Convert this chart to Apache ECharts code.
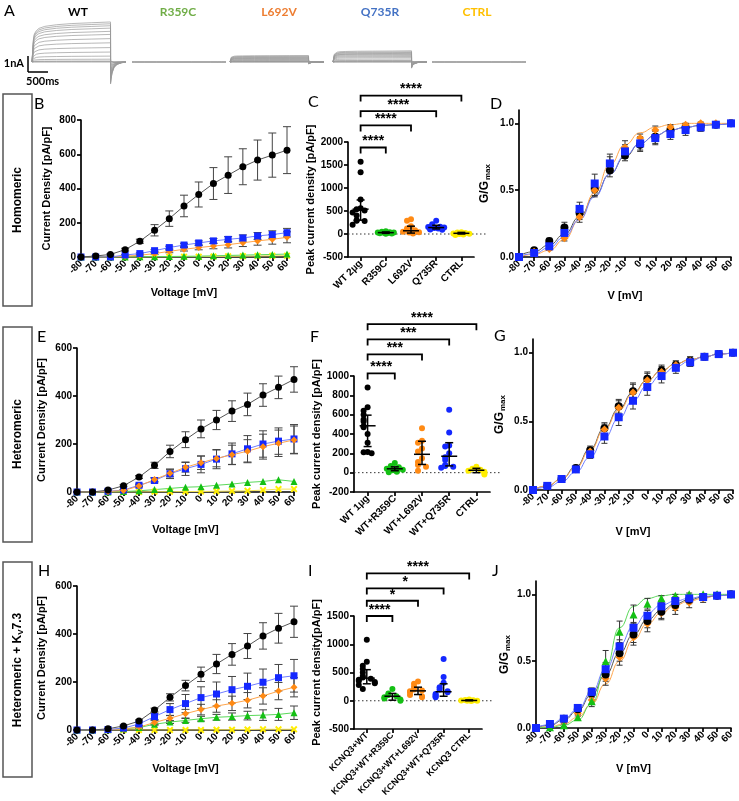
<!DOCTYPE html>
<html>
<head>
<meta charset="utf-8">
<script src="https://cdn.jsdelivr.net/npm/echarts@6.0.0/dist/echarts.min.js"></script>
<style>
  html, body { margin: 0; padding: 0; background: #fff; }
  #Chart { width: 739px; height: 801px; }
</style>
</head>
<body>
<div id="Chart"></div>
<script>
// ---- data ----
const voltages = [-80, -70, -60, -50, -40, -30, -20, -10, 0, 10, 20, 30, 40, 50, 60]

// A: example current traces (nA), time in ms
const pulseTimes = [0, 5, 30, 80, 150, 300, 600, 1000, 1500, 2000]
const tailTimes = [2001, 2010, 2040, 2090, 2170, 2280, 2400]
const wtPulse = [0, 0.55, 0.7, 0.78, 0.84, 0.89, 0.93, 0.96, 0.98, 1]
const l692vPulse = [0, 0.75, 0.85, 0.9, 0.93, 0.95, 0.97, 0.98, 0.99, 1]
const q735rPulse = [0, 0.7, 0.82, 0.88, 0.92, 0.94, 0.96, 0.97, 0.98, 1]
const flatPulse = [0, 0, 0, 0, 0, 0, 0, 0, 0, 0]
const wtTail = [-0.55, -0.45, -0.28, -0.14, -0.06, -0.02, 0]
const l692vTail = [-0.3, -0.2, -0.1, -0.05, -0.02, 0, 0]
const q735rTail = [-0.55, -0.4, -0.22, -0.1, -0.04, -0.01, 0]
const flatTail = [0, 0, 0, 0, 0, 0, 0]
const wtSweeps = [0, 0.03, 0.07, 0.2, 0.42, 0.71, 1.03, 1.37, 1.67, 1.97, 2.19, 2.42, 2.59, 2.73, 2.86]
const r359cSweeps = [0, 0.01, 0.02, 0.03]
const l692vSweeps = [0, 0.01, 0.02, 0.04, 0.06, 0.09, 0.13, 0.18, 0.22, 0.26, 0.29, 0.33, 0.37, 0.41, 0.46]
const q735rSweeps = [0, 0.01, 0.03, 0.07, 0.11, 0.21, 0.31, 0.39, 0.46, 0.53, 0.58, 0.62, 0.68, 0.73, 0.8]
const ctrlSweeps = [0, 0.01, 0.02, 0.03]

// B: homomeric I-V (pA/pF)
const homoWT = [0, 6, 15, 43, 92, 156, 224, 298, 365, 429, 478, 527, 566, 595, 624]
const homoWTErr = [0, 2, 4, 8, 12, 33, 45, 63, 73, 93, 107, 105, 117, 129, 137]
const homoR359C = [0, 0, 0, 0, 1, 2, 3, 4, 5, 7, 9, 11, 13, 15, 17]
const homoL692V = [0, 0, 0, 5, 10, 20, 33, 45, 55, 64, 72, 83, 94, 103, 115]
const homoL692VErr = [0, 0, 0, 2, 4, 6, 8, 10, 13, 16, 19, 22, 25, 28, 32]
const homoQ735R = [0, 0, 0, 12, 20, 37, 55, 70, 82, 94, 103, 111, 123, 131, 142]
const homoQ735RErr = [0, 0, 0, 3, 4, 6, 8, 10, 12, 14, 16, 18, 20, 22, 25]
const homoCTRL = [0, 0, 0, 0, 0, 1, 1, 2, 2, 3, 4, 5, 6, 7, 8]

// C: homomeric peak current density
const homoPeakLabels = ["WT 2µg", "R359C", "L692V", "Q735R", "CTRL"]
const homoPeakWT = [1570, 1340, 750, 560, 540, 510, 470, 400, 300, 290, 280, 200]
const homoPeakR359C = [60, 50, 40, 35, 30, 25, 20, 15, 10, 5]
const homoPeakL692V = [320, 290, 170, 120, 80, 60, 50, 40, 30, 20, 10]
const homoPeakQ735R = [290, 210, 180, 160, 150, 140, 130, 120, 110, 100, 90]
const homoPeakCTRL = [40, 30, 20, 10, 5, 0, -10, -20]
const homoPeakMid = [540, 30, 70, 140, 15]
const homoPeakLow = [300, 15, 20, 110, 0]
const homoPeakHigh = [740, 45, 170, 190, 35]
const homoSig = ["****", "****", "****", "****"]
const homoSigLevel = [1880, 2360, 2670, 3010]

// D: homomeric G/Gmax
const homoGWT = [0, 0.05, 0.12, 0.22, 0.33, 0.51, 0.65, 0.76, 0.84, 0.9, 0.95, 0.97, 0.98, 0.99, 1]
const homoGWTErr = [0, 0.01, 0.02, 0.04, 0.05, 0.05, 0.05, 0.04, 0.05, 0.05, 0.03, 0.03, 0.02, 0.01, 0]
const homoGL692V = [0, 0.04, 0.06, 0.14, 0.3, 0.5, 0.7, 0.82, 0.89, 0.95, 0.97, 0.99, 1, 1, 1]
const homoGL692VErr = [0, 0.01, 0.01, 0.02, 0.04, 0.05, 0.05, 0.05, 0.03, 0.03, 0.02, 0.01, 0.01, 0, 0]
const homoGQ735R = [0, 0.03, 0.08, 0.18, 0.36, 0.55, 0.7, 0.79, 0.85, 0.89, 0.92, 0.95, 0.97, 0.99, 1]
const homoGQ735RErr = [0, 0.01, 0.02, 0.03, 0.05, 0.07, 0.07, 0.05, 0.05, 0.05, 0.04, 0.04, 0.03, 0.01, 0]
const homoFitWT = [0.01, 0.04, 0.09, 0.17, 0.3, 0.46, 0.62, 0.75, 0.85, 0.91, 0.95, 0.97, 0.985, 0.99, 1]
const homoFitL692V = [0, 0.02, 0.05, 0.13, 0.28, 0.48, 0.69, 0.84, 0.93, 0.97, 0.99, 1, 1, 1, 1]
const homoFitQ735R = [0.005, 0.025, 0.07, 0.15, 0.28, 0.45, 0.62, 0.76, 0.85, 0.91, 0.95, 0.97, 0.985, 0.99, 1]

// E: heteromeric I-V
const heteroWT = [0, 0, 8, 26, 62, 111, 169, 218, 263, 300, 337, 365, 404, 436, 469]
const heteroWTErr = [0, 0, 2, 4, 6, 13, 26, 33, 37, 40, 43, 47, 47, 47, 53]
const heteroR359C = [0, 0, 0, 2, 5, 10, 15, 20, 22, 28, 33, 40, 44, 51, 44]
const heteroL692V = [0, 0, 2, 6, 25, 52, 78, 103, 122, 140, 155, 170, 189, 203, 217]
const heteroL692VErr = [0, 0, 1, 2, 4, 8, 15, 20, 28, 35, 40, 48, 52, 55, 58]
const heteroQ735R = [0, 0, 3, 8, 28, 48, 76, 97, 115, 137, 159, 180, 200, 212, 221]
const heteroQ735RErr = [0, 0, 1, 2, 5, 10, 20, 28, 35, 40, 45, 55, 55, 55, 60]
const heteroCTRL = [0, 0, 0, 0, 0, 1, 1, 2, 2, 3, 4, 5, 8, 12, 12]

// F: heteromeric peak current density
const heteroPeakLabels = ["WT 1µg", "WT+R359C", "WT+L692V", "WT+Q735R", "CTRL"]
const heteroPeakWT = [880, 677, 640, 600, 550, 530, 480, 470, 400, 310, 215, 210, 200]
const heteroPeakR359C = [100, 70, 55, 45, 40, 30, 25, 20, 10, 5]
const heteroPeakL692V = [460, 330, 310, 250, 220, 150, 110, 80, 60, 20]
const heteroPeakQ735R = [650, 415, 280, 270, 200, 160, 130, 80, 70, 60, 50]
const heteroPeakCTRL = [60, 40, 30, 20, 10, 0, -20]
const heteroPeakMid = [485, 40, 190, 170, 25]
const heteroPeakLow = [270, 20, 85, 70, 0]
const heteroPeakHigh = [595, 60, 325, 310, 45]
const heteroSig = ["****", "***", "***", "****"]
const heteroSigLevel = [1027, 1223, 1378, 1536]

// G: heteromeric G/Gmax
const heteroGWT = [0, 0.03, 0.08, 0.16, 0.29, 0.45, 0.61, 0.72, 0.81, 0.87, 0.91, 0.94, 0.97, 0.99, 1]
const heteroGWTErr = [0, 0.01, 0.01, 0.02, 0.03, 0.04, 0.05, 0.06, 0.05, 0.04, 0.03, 0.03, 0.02, 0.01, 0]
const heteroGL692V = [0, 0.03, 0.08, 0.15, 0.28, 0.44, 0.6, 0.71, 0.8, 0.86, 0.91, 0.94, 0.97, 0.99, 1]
const heteroGQ735R = [0, 0.03, 0.08, 0.15, 0.26, 0.39, 0.53, 0.65, 0.75, 0.83, 0.89, 0.93, 0.97, 0.99, 1]
const heteroGQ735RErr = [0, 0.01, 0.01, 0.02, 0.03, 0.05, 0.06, 0.06, 0.06, 0.05, 0.04, 0.03, 0.02, 0.01, 0]
const heteroFitWT = [0, 0.03, 0.08, 0.17, 0.3, 0.45, 0.59, 0.71, 0.8, 0.87, 0.92, 0.95, 0.97, 0.99, 1]
const heteroFitL692V = [0, 0.03, 0.08, 0.16, 0.29, 0.44, 0.58, 0.7, 0.8, 0.87, 0.92, 0.95, 0.97, 0.99, 1]
const heteroFitQ735R = [0, 0.02, 0.06, 0.13, 0.24, 0.38, 0.52, 0.65, 0.76, 0.84, 0.9, 0.94, 0.97, 0.99, 1]

// H: heteromeric + Kv7.3 I-V
const kv73WT = [0, 0, 5, 17, 37, 83, 136, 185, 232, 275, 315, 350, 392, 424, 451]
const kv73WTErr = [0, 0, 1, 3, 5, 8, 15, 22, 30, 40, 45, 52, 55, 62, 65]
const kv73R359C = [0, 0, 1, 5, 10, 24, 33, 40, 47, 53, 56, 60, 62, 65, 72]
const kv73R359CErr = [0, 0, 0, 1, 2, 4, 6, 8, 10, 12, 15, 18, 22, 25, 28]
const kv73L692V = [0, 0, 1, 4, 12, 31, 49, 68, 85, 100, 111, 124, 142, 162, 178]
const kv73L692VErr = [0, 0, 1, 2, 4, 8, 12, 18, 22, 26, 30, 32, 34, 36, 40]
const kv73Q735R = [0, 0, 2, 8, 25, 56, 85, 110, 135, 150, 168, 182, 199, 218, 226]
const kv73Q735RErr = [0, 0, 1, 3, 6, 12, 25, 38, 45, 50, 55, 55, 55, 55, 68]
const kv73CTRL = [0, 0, 0, 0, 0, 0, 0, 0, 0, 1, 1, 2, 3, 3, 3]

// I: heteromeric + Kv7.3 peak current density
const kv73PeakLabels = ["KCNQ3+WT", "KCNQ3+WT+R359C", "KCNQ3+WT+L692V", "KCNQ3+WT+Q735R", "KCNQ3 CTRL"]
const kv73PeakWT = [1080, 690, 620, 560, 500, 440, 410, 390, 370, 350, 330, 310, 280, 210]
const kv73PeakR359C = [210, 130, 100, 80, 60, 40, 20, 0]
const kv73PeakL692V = [340, 300, 250, 200, 180, 170, 150, 100, 80, 60]
const kv73PeakQ735R = [740, 420, 320, 240, 200, 170, 150, 120, 100, 80, 60]
const kv73PeakCTRL = [20, 15, 10, 5, 0, 0, -5]
const kv73PeakMid = [400, 80, 175, 160, 5]
const kv73PeakLow = [300, 10, 110, 80, 0]
const kv73PeakHigh = [550, 130, 240, 300, 15]
const kv73Sig = ["****", "*", "*", "****"]
const kv73SigLevel = [1500, 1770, 1988, 2253]

// J: heteromeric + Kv7.3 G/Gmax
const kv73GWT = [0, 0.02, 0.07, 0.14, 0.26, 0.4, 0.56, 0.7, 0.8, 0.87, 0.92, 0.96, 0.98, 0.99, 1]
const kv73GWTErr = [0, 0.01, 0.01, 0.02, 0.03, 0.05, 0.06, 0.06, 0.05, 0.05, 0.04, 0.03, 0.02, 0.01, 0]
const kv73GR359C = [0, 0.005, 0.02, 0.08, 0.2, 0.5, 0.72, 0.85, 0.93, 0.97, 0.99, 1, 1, 1, 1]
const kv73GR359CErr = [0, 0, 0.01, 0.02, 0.04, 0.08, 0.08, 0.07, 0.04, 0.02, 0.01, 0.01, 0, 0, 0]
const kv73GL692V = [0, 0.02, 0.05, 0.11, 0.21, 0.37, 0.53, 0.68, 0.78, 0.86, 0.9, 0.94, 0.97, 0.99, 1]
const kv73GL692VErr = [0, 0.01, 0.01, 0.02, 0.03, 0.05, 0.06, 0.06, 0.06, 0.05, 0.05, 0.04, 0.03, 0.01, 0]
const kv73GQ735R = [0, 0.03, 0.07, 0.15, 0.27, 0.44, 0.61, 0.75, 0.84, 0.91, 0.95, 0.97, 0.98, 0.99, 1]
const kv73GQ735RErr = [0, 0.01, 0.01, 0.02, 0.03, 0.05, 0.05, 0.04, 0.04, 0.03, 0.03, 0.02, 0.01, 0.01, 0]
const kv73FitWT = [0.005, 0.02, 0.06, 0.13, 0.25, 0.4, 0.56, 0.7, 0.81, 0.88, 0.93, 0.96, 0.98, 0.99, 1]
const kv73FitR359C = [0, 0.005, 0.02, 0.06, 0.18, 0.45, 0.75, 0.91, 0.97, 0.99, 1, 1, 1, 1, 1]
const kv73FitL692V = [0, 0.01, 0.03, 0.08, 0.18, 0.33, 0.5, 0.66, 0.78, 0.86, 0.92, 0.95, 0.97, 0.99, 1]
const kv73FitQ735R = [0.005, 0.025, 0.07, 0.14, 0.27, 0.44, 0.62, 0.76, 0.86, 0.92, 0.95, 0.97, 0.985, 0.99, 1]

// ---- styles ----
const FONT = "Liberation Sans"
const tickText = { fontFamily: FONT, fontWeight: "bold", fontSize: 10, color: "#000" }
const nameText = { fontFamily: FONT, fontWeight: "bold", fontSize: 11, color: "#000" }
const axisLineStyle = { color: "#000", width: 1.7 }
const xMark = "path://M2,0L5,3L8,0L10,2L7,5L10,8L8,10L5,7L2,10L0,8L3,5L0,2Z"
const look = {
  WT: { color: "#000000", line: "#555555", symbol: "circle", size: 7 },
  R359C: { color: "#14c014", line: "#5ad85a", symbol: "triangle", size: 7 },
  L692V: { color: "#ff8a14", line: "#ffa64d", symbol: "diamond", size: 7 },
  Q735R: { color: "#1428ff", line: "#6f7dff", symbol: "rect", size: 7 },
  CTRL: { color: "#ffee00", line: "#f2e25a", symbol: xMark, size: 7 }
}

const grid = []
const xAxis = []
const yAxis = []
const series = []
const graphic = []

function addGrid (box) {
  grid.push(box)
  return grid.length - 1
}

function voltAxis (gi, name, gap) {
  return {
    type: "value", gridIndex: gi, min: -80, max: 60, interval: 10,
    name, nameLocation: "middle", nameGap: gap, nameTextStyle: nameText,
    axisLine: { show: true, onZero: false, lineStyle: axisLineStyle },
    axisTick: { show: true, length: 4, lineStyle: axisLineStyle },
    axisLabel: { ...tickText, rotate: 45, margin: 5, formatter: v => String(v) },
    splitLine: { show: false }
  }
}

function valueAxis (gi, min, max, interval, name, gap, extra) {
  return Object.assign({
    type: "value", gridIndex: gi, min, max, interval,
    name, nameLocation: "middle", nameGap: gap, nameTextStyle: nameText,
    axisLine: { show: true, onZero: false, lineStyle: axisLineStyle },
    axisTick: { show: true, length: 4, lineStyle: axisLineStyle },
    axisLabel: { ...tickText, margin: 5, formatter: v => String(v) },
    splitLine: { show: false }
  }, extra || {})
}

function catAxis (gi, labels, fontSize) {
  return {
    type: "category", gridIndex: gi, data: labels, boundaryGap: true,
    axisLine: { show: true, onZero: false, lineStyle: axisLineStyle },
    axisTick: { show: true, alignWithLabel: true, length: 4, lineStyle: axisLineStyle },
    axisLabel: { ...tickText, fontSize, rotate: 45, interval: 0, margin: 5 },
    splitLine: { show: false }
  }
}

function errorBars (gi, values, errs, cap, color) {
  return {
    type: "custom", xAxisIndex: gi, yAxisIndex: gi, clip: false, silent: true, z: 3,
    data: voltages.map((v, i) => [v, values[i], errs[i]]),
    renderItem: (params, api) => {
      const e = api.value(2)
      if (!e) return null
      const hi = api.coord([api.value(0), api.value(1) + e])
      const lo = api.coord([api.value(0), api.value(1) - e])
      const style = { stroke: color || "#444", lineWidth: 1 }
      return {
        type: "group",
        children: [
          { type: "line", shape: { x1: hi[0], y1: hi[1], x2: lo[0], y2: lo[1] }, style },
          { type: "line", shape: { x1: hi[0] - cap, y1: hi[1], x2: hi[0] + cap, y2: hi[1] }, style },
          { type: "line", shape: { x1: lo[0] - cap, y1: lo[1], x2: lo[0] + cap, y2: lo[1] }, style }
        ]
      }
    }
  }
}

// I-V panels: points joined by straight lines
function ivPanel (box, yMax, xGap, yGap, groups) {
  const gi = addGrid(box)
  xAxis.push(voltAxis(gi, "Voltage [mV]", xGap))
  yAxis.push(valueAxis(gi, 0, yMax, 200, "Current Density [pA/pF]", yGap))
  groups.forEach(([key, values, errs]) => {
    const s = look[key]
    if (errs) series.push(errorBars(gi, values, errs, 4))
    series.push({
      type: "line", name: key, xAxisIndex: gi, yAxisIndex: gi, z: 4,
      data: voltages.map((v, i) => [v, values[i]]),
      symbol: s.symbol, symbolSize: s.size, showSymbol: true,
      itemStyle: { color: s.color, borderWidth: 0 },
      lineStyle: { color: s.line, width: 1 }
    })
  })
}

// G/Gmax panels: points + smooth fit lines
function gPanel (box, xGap, yGap, groups) {
  const gi = addGrid(box)
  xAxis.push(voltAxis(gi, "V [mV]", xGap))
  yAxis.push(valueAxis(gi, 0, 1.1, null, "G/G{m|max}", yGap, {
    nameTextStyle: { ...nameText, fontSize: 12, rich: { m: { fontFamily: FONT, fontWeight: "bold", fontSize: 8, padding: [7, 0, 0, 1] } } },
    axisLabel: { ...tickText, margin: 5, customValues: [0, 0.5, 1], formatter: v => v.toFixed(1) },
    axisTick: { show: true, length: 4, lineStyle: axisLineStyle, customValues: [0, 0.5, 1] }
  }))
  groups.forEach(([key, values, errs, fit]) => {
    const s = look[key]
    series.push({
      type: "line", xAxisIndex: gi, yAxisIndex: gi, z: 2, silent: true,
      data: voltages.map((v, i) => [v, fit[i]]),
      smooth: 0.5, smoothMonotone: "x", showSymbol: false, symbol: "none",
      lineStyle: { color: s.line, width: 1 }
    })
    if (errs) series.push(errorBars(gi, values, errs, 3, "#333"))
    series.push({
      type: "scatter", xAxisIndex: gi, yAxisIndex: gi, z: 4,
      data: voltages.map((v, i) => [v, values[i]]),
      symbol: s.symbol, symbolSize: s.size + 1,
      itemStyle: { color: s.color, opacity: 1 }
    })
  })
}

// scatter-dot panels with median/range bars and significance brackets
function spread (values, unitsPerPx) {
  const steps = [0, -4, 4, -8, 8, -2, 2, -6, 6]
  const placed = []
  return values.map(v => {
    const near = placed.filter(p => Math.abs(p - v) < 5 * unitsPerPx).length
    placed.push(v)
    return steps[near % steps.length]
  })
}

function dotPanel (box, yMin, yMax, step, yName, yGap, labels, labelSize, groups, mid, low, high, sig, sigLevel) {
  const gi = addGrid(box)
  xAxis.push(catAxis(gi, labels, labelSize))
  yAxis.push(valueAxis(gi, yMin, yMax, step, yName, yGap))
  const unitsPerPx = (yMax - yMin) / box.height
  series.push({
    type: "custom", xAxisIndex: gi, yAxisIndex: gi, clip: false, silent: true, z: 1,
    data: [[0, 0]],
    renderItem: (params, api) => {
      const p = api.coord([0, 0])
      const cs = params.coordSys
      return {
        type: "line",
        shape: { x1: cs.x, y1: p[1], x2: cs.x + cs.width + 12, y2: p[1] },
        style: { stroke: "#333", lineWidth: 1, lineDash: [1.5, 2.5] }
      }
    }
  })
  groups.forEach(([key, values], ci) => {
    const offs = spread(values, unitsPerPx)
    series.push({
      type: "scatter", xAxisIndex: gi, yAxisIndex: gi, z: 3,
      data: values.map((v, i) => ({ value: [ci, v], symbolOffset: [offs[i], 0] })),
      symbol: "circle", symbolSize: 6,
      itemStyle: { color: look[key].color, opacity: 1 }
    })
  })
  series.push({
    type: "custom", xAxisIndex: gi, yAxisIndex: gi, clip: false, silent: true, z: 5,
    data: mid.map((m, i) => [i, m, low[i], high[i]]),
    renderItem: (params, api) => {
      const c = api.coord([api.value(0), api.value(1)])
      const lo = api.coord([api.value(0), api.value(2)])
      const hi = api.coord([api.value(0), api.value(3)])
      const style = { stroke: "#000", lineWidth: 1.5 }
      return {
        type: "group",
        children: [
          { type: "line", shape: { x1: c[0] - 8, y1: c[1], x2: c[0] + 8, y2: c[1] }, style },
          { type: "line", shape: { x1: lo[0], y1: lo[1], x2: hi[0], y2: hi[1] }, style },
          { type: "line", shape: { x1: lo[0] - 4, y1: lo[1], x2: lo[0] + 4, y2: lo[1] }, style },
          { type: "line", shape: { x1: hi[0] - 4, y1: hi[1], x2: hi[0] + 4, y2: hi[1] }, style }
        ]
      }
    }
  })
  series.push({
    type: "custom", xAxisIndex: gi, yAxisIndex: gi, clip: false, silent: true, z: 5,
    data: sigLevel.map((lv, i) => [i + 1, lv, i]),
    renderItem: (params, api) => {
      const a = api.coord([0, api.value(1)])
      const b = api.coord([api.value(0), api.value(1)])
      return {
        type: "group",
        children: [
          { type: "polyline", shape: { points: [[a[0], a[1] + 6], a, b, [b[0], b[1] + 6]] }, style: { stroke: "#000", lineWidth: 1.8, fill: null } },
          { type: "text", style: { text: sig[api.value(2)], x: (a[0] + b[0]) / 2, y: a[1] + 1, textAlign: "center", textVerticalAlign: "bottom", font: `bold 14px '${FONT}'`, fill: "#000" } }
        ]
      }
    }
  })
}

// ---- A: traces ----
const traceSets = [wtSweeps, r359cSweeps, l692vSweeps, q735rSweeps, ctrlSweeps]
const traceShapes = [wtPulse, flatPulse, l692vPulse, q735rPulse, flatPulse]
const traceTails = [wtTail, flatTail, l692vTail, q735rTail, flatTail]
const traceLefts = [32, 132, 230, 333, 432]
traceSets.forEach((sweeps, k) => {
  const gi = addGrid({ left: traceLefts[k], top: 20, width: 94, height: 70 })
  xAxis.push({ type: "value", gridIndex: gi, min: -30, max: 2400, show: false })
  yAxis.push({ type: "value", gridIndex: gi, min: -2, max: 3, show: false })
  sweeps.forEach(amp => {
    const data = [[-30, 0]]
      .concat(pulseTimes.map((t, i) => [t, amp * traceShapes[k][i]]))
      .concat(tailTimes.map((t, i) => [t, amp * traceTails[k][i]]))
    series.push({
      type: "line", xAxisIndex: gi, yAxisIndex: gi, data, silent: true,
      showSymbol: false, symbol: "none", lineStyle: { color: "#9a9a9a", width: 0.7 }
    })
  })
})

// ---- B, E, H ----
ivPanel({ left: 81, top: 120, width: 206, height: 137 }, 800, 30, 29, [
  ["CTRL", homoCTRL], ["R359C", homoR359C], ["L692V", homoL692V, homoL692VErr],
  ["Q735R", homoQ735R, homoQ735RErr], ["WT", homoWT, homoWTErr]
])
ivPanel({ left: 77, top: 348, width: 217, height: 144 }, 600, 32, 30, [
  ["CTRL", heteroCTRL], ["R359C", heteroR359C], ["Q735R", heteroQ735R, heteroQ735RErr],
  ["L692V", heteroL692V, heteroL692VErr], ["WT", heteroWT, heteroWTErr]
])
ivPanel({ left: 77, top: 586, width: 217, height: 144 }, 600, 33, 30, [
  ["CTRL", kv73CTRL], ["R359C", kv73R359C, kv73R359CErr], ["L692V", kv73L692V, kv73L692VErr],
  ["Q735R", kv73Q735R, kv73Q735RErr], ["WT", kv73WT, kv73WTErr]
])

// ---- C, F, I ----
dotPanel({ left: 348, top: 142, width: 126, height: 115 }, -500, 2000, 500, "Peak current density [pA/pF]", 30,
  homoPeakLabels, 10,
  [["WT", homoPeakWT], ["R359C", homoPeakR359C], ["L692V", homoPeakL692V], ["Q735R", homoPeakQ735R], ["CTRL", homoPeakCTRL]],
  homoPeakMid, homoPeakLow, homoPeakHigh, homoSig, homoSigLevel)
dotPanel({ left: 354, top: 376, width: 136, height: 116 }, -200, 1000, 200, "Peak current density [pA/pF]", 28,
  heteroPeakLabels, 10,
  [["WT", heteroPeakWT], ["R359C", heteroPeakR359C], ["L692V", heteroPeakL692V], ["Q735R", heteroPeakQ735R], ["CTRL", heteroPeakCTRL]],
  heteroPeakMid, heteroPeakLow, heteroPeakHigh, heteroSig, heteroSigLevel)
dotPanel({ left: 354, top: 616, width: 128, height: 113 }, -500, 1500, 500, "Peak current density[pA/pF]", 30,
  kv73PeakLabels, 9,
  [["WT", kv73PeakWT], ["R359C", kv73PeakR359C], ["L692V", kv73PeakL692V], ["Q735R", kv73PeakQ735R], ["CTRL", kv73PeakCTRL]],
  kv73PeakMid, kv73PeakLow, kv73PeakHigh, kv73Sig, kv73SigLevel)

// ---- D, G, J ----
gPanel({ left: 519, top: 110, width: 212, height: 147 }, 33, 27, [
  ["WT", homoGWT, homoGWTErr, homoFitWT], ["L692V", homoGL692V, homoGL692VErr, homoFitL692V],
  ["Q735R", homoGQ735R, homoGQ735RErr, homoFitQ735R]
])
gPanel({ left: 533, top: 339, width: 200, height: 151 }, 36, 26, [
  ["WT", heteroGWT, heteroGWTErr, heteroFitWT], ["L692V", heteroGL692V, heteroGWTErr, heteroFitL692V],
  ["Q735R", heteroGQ735R, heteroGQ735RErr, heteroFitQ735R]
])
gPanel({ left: 536, top: 581, width: 195, height: 147 }, 35, 24, [
  ["L692V", kv73GL692V, kv73GL692VErr, kv73FitL692V], ["WT", kv73GWT, kv73GWTErr, kv73FitWT],
  ["R359C", kv73GR359C, kv73GR359CErr, kv73FitR359C], ["Q735R", kv73GQ735R, kv73GQ735RErr, kv73FitQ735R]
])

// ---- labels, boxes, scale bar ----
const letterFont = "16px Lato"
;[["A", 4, 3], ["B", 34, 96], ["C", 308, 94], ["D", 490, 96], ["E", 37, 329], ["F", 310, 329],
  ["G", 494, 328], ["H", 38, 563], ["I", 308, 563], ["J", 492, 563]].forEach(([t, x, y]) => {
  graphic.push({ type: "text", x, y, style: { text: t, font: letterFont, fill: "#000" } })
})
;[["WT", "#000000", 78], ["R359C", "#70ad47", 178], ["L692V", "#ed7d31", 279], ["Q735R", "#4472c4", 380], ["CTRL", "#ffc000", 477]]
  .forEach(([t, c, x]) => {
    graphic.push({ type: "text", x, y: 12, style: { text: t, fill: c, font: "bold 12px Lato", textAlign: "center", textVerticalAlign: "middle" } })
  })
graphic.push(
  { type: "line", shape: { x1: 28, y1: 56, x2: 28, y2: 72 }, style: { stroke: "#000", lineWidth: 1.5 } },
  { type: "line", shape: { x1: 28, y1: 72, x2: 48, y2: 72 }, style: { stroke: "#000", lineWidth: 1.5 } },
  { type: "text", x: 24, y: 63, style: { text: "1nA", font: "bold 11px Lato", fill: "#000", textAlign: "right", textVerticalAlign: "middle" } },
  { type: "text", x: 26, y: 81, style: { text: "500ms", font: "bold 11px Lato", fill: "#000", textAlign: "left", textVerticalAlign: "middle" } }
)
;[[3, 94, 29, 212, "Homomeric", 200], [3, 327, 29, 215, "Heteromeric", 434], [3, 562, 29, 215, "Heteromeric + K{s|V}7.3", 670]]
  .forEach(([x, y, w, h, t, cy]) => {
    graphic.push({ type: "rect", shape: { x, y, width: w, height: h }, style: { fill: null, stroke: "#555", lineWidth: 1.5 } })
    graphic.push({
      type: "text", x: x + w / 2, y: cy, rotation: Math.PI / 2,
      style: {
        text: t, font: `bold 12px '${FONT}'`, fill: "#000", textAlign: "center", textVerticalAlign: "middle",
        rich: { s: { fontFamily: FONT, fontWeight: "bold", fontSize: 8, padding: [6, 0, 0, 0] } }
      }
    })
  })

const chart = echarts.init(document.getElementById("Chart"), null, { renderer: "canvas" })
chart.setOption({
  animation: false,
  backgroundColor: "#fff",
  textStyle: { fontFamily: FONT },
  grid, xAxis, yAxis, series, graphic
})
</script>
